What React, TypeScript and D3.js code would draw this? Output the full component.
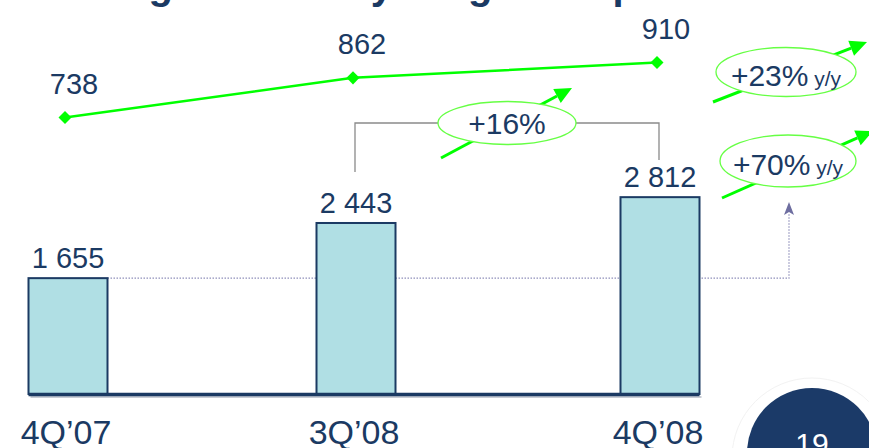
import React from "react";
import * as d3 from "d3";

const categories = ["4Q’07", "3Q’08", "4Q’08"];
const barValues = [1655, 2443, 2812];
const barLabels = ["1 655", "2 443", "2 812"];
const lineValues = [738, 862, 910];
const lineLabels = ["738", "862", "910"];
const bracketChange = "+16%";
const lineChange = "+23%";
const barChange = "+70%";
const yoy = " y/y";
const pageNumber = "19";
const titleParts = ["Strong and steady", "growth pace"];

const W = 869;
const H = 448;
const NAVY = "#1B3A63";
const GREEN = "#00FF00";
const FONT = "'Liberation Sans', Arial, sans-serif";

function Arrow({ x1, y1, x2, y2, len = 17, half = 8, color = GREEN, width = 3 }: any) {
  const a = Math.atan2(y2 - y1, x2 - x1);
  const bx = x2 - len * Math.cos(a);
  const by = y2 - len * Math.sin(a);
  const px = -Math.sin(a) * half;
  const py = Math.cos(a) * half;
  const pts = `${x2},${y2} ${bx + px},${by + py} ${bx - px},${by - py}`;
  return (
    <g>
      <line x1={x1} y1={y1} x2={bx} y2={by} stroke={color} strokeWidth={width} />
      <polygon points={pts} fill={color} />
    </g>
  );
}

export default function App() {
  const x = d3.scaleOrdinal<string, number>().domain(categories).range([68, 356, 660]);
  const barW = 79;
  const yBar = d3.scaleLinear().domain([0, 3000]).range([394, 184]);
  const yLine = d3.scaleLinear().domain([700, 950]).range([129.7, 49.7]);

  const linePath = d3
    .line<number>()
    .x((_, i) => x(categories[i]) - 3)
    .y((v) => yLine(v))(lineValues);

  const diamond = d3.symbol().type(d3.symbolSquare).size(85)();

  const x0 = x(categories[0]);
  const x1 = x(categories[1]);
  const x2 = x(categories[2]);
  const refY = yBar(barValues[0]);

  return (
    <svg
      width={W}
      height={H}
      viewBox={`0 0 ${W} ${H}`}
      style={{ position: "absolute", left: 0, top: 0, background: "#fff" }}
      fontFamily={FONT}
    >
      {/* cropped title */}
      <text y={-1} fill={NAVY} fontSize={40} fontWeight="bold">
        <tspan x={44}>{titleParts[0]}</tspan>
        <tspan x={468}>{titleParts[1]}</tspan>
      </text>

      {/* dotted reference from first bar */}
      <path
        d={`M${x0 + barW / 2},${refY} H789 V214`}
        fill="none"
        stroke="#8F8FBA"
        strokeWidth={1.2}
        strokeDasharray="1.5,1.5"
      />
      <polygon points={`789,202 784,215 789,212 794,215`} fill="#6E6EA0" />

      {/* bars */}
      <line x1={x0 - barW / 2 + 2} y1={397} x2={x2 + barW / 2 + 2} y2={397} stroke="#C8CCD4" strokeWidth={2} />
      {barValues.map((v, i) => (
        <g key={categories[i]}>
          <rect
            x={x(categories[i]) - barW / 2}
            y={yBar(v)}
            width={barW}
            height={yBar(0) - yBar(v)}
            fill="#B0DFE4"
            stroke={NAVY}
            strokeWidth={2}
          />
          <text
            x={x(categories[i])}
            y={yBar(v) - 10}
            textAnchor="middle"
            fontSize={29}
            fill={NAVY}
          >
            {barLabels[i]}
          </text>
          <text
            x={x(categories[i]) - 2}
            y={444}
            textAnchor="middle"
            fontSize={34}
            fill={NAVY}
          >
            {categories[i]}
          </text>
        </g>
      ))}
      <line x1={x0 - barW / 2} y1={394.5} x2={x2 + barW / 2} y2={394.5} stroke={NAVY} strokeWidth={3.5} />

      {/* line series */}
      <path d={linePath || ""} fill="none" stroke={GREEN} strokeWidth={2.5} />
      {lineValues.map((v, i) => (
        <g key={"l" + i}>
          <path
            d={diamond || ""}
            transform={`translate(${x(categories[i]) - 3},${yLine(v)}) rotate(45)`}
            fill={GREEN}
          />
          <text
            x={x(categories[i]) + 6}
            y={yLine(v) - 24}
            textAnchor="middle"
            fontSize={29}
            fill={NAVY}
          >
            {lineLabels[i]}
          </text>
        </g>
      ))}

      {/* bracket between 3Q'08 and 4Q'08 */}
      <path
        d={`M${x1 - 1},172 V123 H${x2 - 1} V160`}
        fill="none"
        stroke="#8A8A8A"
        strokeWidth={1.3}
      />
      <Arrow x1={441} y1={158} x2={572} y2={88} />
      <ellipse cx={507} cy={123} rx={69} ry={21.5} fill="#fff" stroke="#66FF44" strokeWidth={1.3} />
      <text x={507} y={134} textAnchor="middle" fontSize={30} fill={NAVY}>
        {bracketChange}
      </text>

      {/* +23% y/y */}
      <Arrow x1={713} y1={102} x2={867} y2={42} />
      <ellipse cx={786} cy={72} rx={70} ry={24.5} fill="#fff" stroke="#66FF44" strokeWidth={1.3} />
      <text x={786} y={86} textAnchor="middle" fill={NAVY}>
        <tspan fontSize={30}>{lineChange}</tspan>
        <tspan fontSize={21}>{yoy}</tspan>
      </text>

      {/* +70% y/y */}
      <Arrow x1={722} y1={198} x2={873} y2={131} />
      <ellipse cx={788} cy={161} rx={68} ry={26} fill="#fff" stroke="#66FF44" strokeWidth={1.3} />
      <text x={788} y={175} textAnchor="middle" fill={NAVY}>
        <tspan fontSize={30}>{barChange}</tspan>
        <tspan fontSize={21}>{yoy}</tspan>
      </text>

      {/* page number */}
      <circle cx={812} cy={458} r={80} fill="none" stroke="#F2F2F2" strokeWidth={1} />
      <circle cx={812} cy={453} r={65} fill="#1B3A68" />
      <text x={812} y={454} textAnchor="middle" fontSize={30} fill="#fff">
        {pageNumber}
      </text>
    </svg>
  );
}
